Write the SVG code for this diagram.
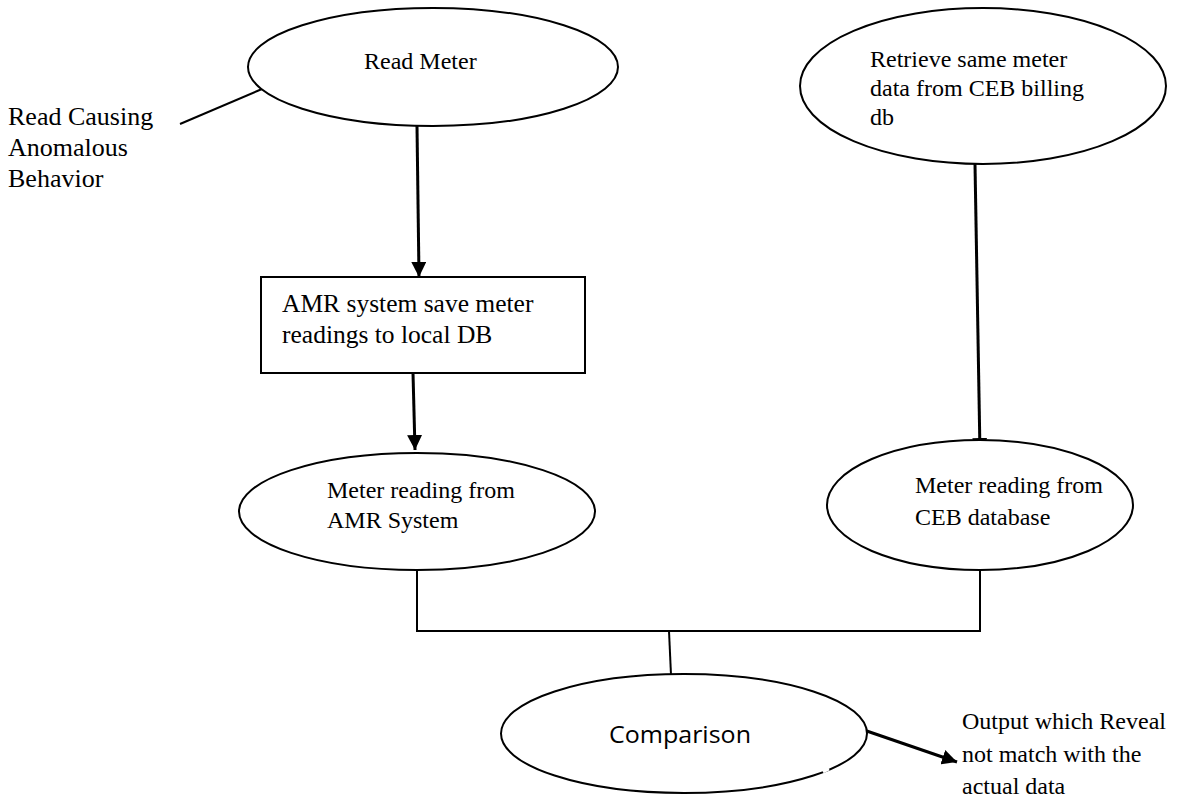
<svg xmlns="http://www.w3.org/2000/svg" width="1195" height="800" viewBox="0 0 1195 800">
  <style>
    .shape { fill: #ffffff; stroke: #000000; stroke-width: 2; }
    .label { font-family: "Liberation Serif", "Times New Roman", serif; fill: #000000; }
    .wire { fill: none; stroke: #000000; stroke-width: 2; }
    .flow { fill: none; stroke: #000000; stroke-width: 3; }
  </style>
  <defs>
    <marker id="head" viewBox="0 0 10 10" refX="10" refY="5" markerWidth="15" markerHeight="15" orient="auto" markerUnits="userSpaceOnUse">
      <path d="M0,0 L10,5 L0,10 z" fill="#000000"/>
    </marker>
  </defs>
  <rect width="1195" height="800" fill="#ffffff"/>

  <g id="connectors">
    <line class="wire" x1="180" y1="124" x2="262" y2="89"/>
    <line class="flow" x1="417" y1="126" x2="419" y2="277" marker-end="url(#head)"/>
    <line class="flow" x1="413" y1="373" x2="415" y2="450" marker-end="url(#head)"/>
    <line class="flow" x1="975" y1="164" x2="980" y2="453" marker-end="url(#head)"/>
    <polyline class="wire" points="417,570 417,631 980,631 980,570"/>
    <line class="wire" x1="669" y1="631" x2="671" y2="675"/>
    <line class="flow" x1="858" y1="728" x2="957" y2="762" marker-end="url(#head)"/>
  </g>

  <g id="read-meter">
    <ellipse class="shape" cx="433" cy="67" rx="185" ry="59"/>
    <text class="label" x="364" y="69" font-size="24">Read Meter</text>
  </g>

  <g id="anomaly-note">
    <text class="label" font-size="26">
      <tspan x="8" y="125">Read Causing</tspan>
      <tspan x="8" y="156">Anomalous</tspan>
      <tspan x="8" y="187">Behavior</tspan>
    </text>
  </g>

  <g id="retrieve-ceb">
    <ellipse class="shape" cx="983" cy="86" rx="183" ry="78"/>
    <text class="label" font-size="24">
      <tspan x="870" y="67">Retrieve same meter</tspan>
      <tspan x="870" y="96">data from CEB billing</tspan>
      <tspan x="870" y="125">db</tspan>
    </text>
  </g>

  <g id="amr-save">
    <rect class="shape" x="261" y="277" width="324" height="96"/>
    <text class="label" font-size="25.5">
      <tspan x="282" y="312">AMR system save meter</tspan>
      <tspan x="282" y="343">readings to local DB</tspan>
    </text>
  </g>

  <g id="amr-reading">
    <ellipse class="shape" cx="417" cy="511.5" rx="178" ry="58.5"/>
    <text class="label" font-size="24">
      <tspan x="327" y="498">Meter reading from</tspan>
      <tspan x="327" y="528">AMR System</tspan>
    </text>
  </g>

  <g id="ceb-reading">
    <ellipse class="shape" cx="980" cy="505" rx="153" ry="65"/>
    <text class="label" font-size="24">
      <tspan x="915" y="493">Meter reading from</tspan>
      <tspan x="915" y="525">CEB database</tspan>
    </text>
  </g>

  <g id="comparison">
    <ellipse class="shape" cx="684" cy="733.5" rx="183" ry="59.5"/>
    <!-- small break in the outline at the lower right -->
    <line x1="823" y1="772" x2="829" y2="769" stroke="#ffffff" stroke-width="3"/>
    <text x="609" y="743" font-family="'Open Sans', 'Liberation Sans', sans-serif" font-size="24" textLength="142" lengthAdjust="spacingAndGlyphs" fill="#000000">Comparison</text>
  </g>

  <g id="output-note">
    <text class="label" font-size="24">
      <tspan x="962" y="729">Output which Reveal</tspan>
      <tspan x="962" y="762">not match with the</tspan>
      <tspan x="962" y="794">actual data</tspan>
    </text>
  </g>
</svg>
